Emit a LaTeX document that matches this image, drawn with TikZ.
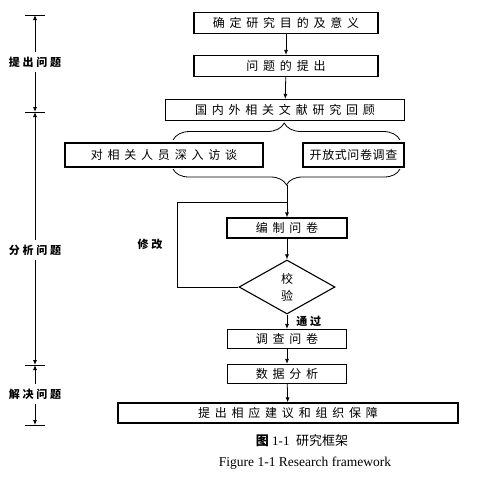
\documentclass[tikz,border=0pt]{standalone}
\usepackage{fontspec}
\setmainfont{Liberation Serif}
\newfontfamily\cjk[LetterSpace=40]{Noto Sans CJK SC}
\newfontfamily\cjkhei[LetterSpace=25]{Noto Sans CJK SC}
\newfontfamily\cjkcap{Noto Sans CJK SC}
\usetikzlibrary{arrows.meta,positioning,shapes.geometric,decorations.pathreplacing}
\tikzset{
  fw/box/.style={draw, line width=1.2pt, inner sep=1pt, minimum height=21pt, font=\cjk\fontsize{12}{14}\selectfont},
  fw/check/.style={draw, diamond, line width=1.1pt, aspect=1.8, inner sep=0pt, minimum width=96pt, minimum height=54pt, align=center, font=\cjk\fontsize{12}{14}\selectfont},
  fw/lbl/.style={inner sep=1pt, font=\cjkhei\bfseries\fontsize{11}{13}\selectfont},
  fw/line/.style={line width=0.8pt},
  fw/flow/.style={fw/line, -{Latex[length=5pt,width=4pt]}},
  fw/brace/.style={fw/line, decorate},
  fw/tick/.style={line width=0.8pt}
}

\begin{document}
\begin{tikzpicture}[x=1pt, y=-1pt]
\useasboundingbox (0,0) rectangle (498,477);

\node[fw/box, minimum width=184pt] (aim) at (286,23) {确定研究目的及意义};
\node[fw/box, minimum width=184pt] (ques) at (286,66) {问题的提出};
\node[fw/box, minimum width=239pt] (lit) at (285,110) {国内外相关文献研究回顾};
\node[fw/box, minimum width=198pt, minimum height=24pt] (intv) at (164,155) {对相关人员深入访谈};
\node[fw/box, minimum width=101pt, minimum height=24pt, font=\cjk\addfontfeature{LetterSpace=5}\fontsize{12}{14}\selectfont] (open) at (353.5,155) {开放式问卷调查};

\node[fw/box, minimum width=120pt, minimum height=20pt] (edit) at (287,228) {编制问卷};
\node[fw/check] (chk) at (287,287) {校\\[3pt]验};
\node[fw/box, minimum width=119pt, minimum height=19pt] (surv) at (287,339) {调查问卷};
\node[fw/box, minimum width=119pt, minimum height=19pt] (data) at (287,374) {数据分析};
\node[fw/box, minimum width=340pt, minimum height=20pt] (adv) at (288,413) {提出相应建议和组织保障};

\draw[fw/flow] (aim) -- (ques);
\draw[fw/flow] (ques) -- (lit);

\draw[fw/brace, decoration={brace, amplitude=17pt, aspect=0.49}] (173,140) -- (400,140);
\draw[fw/brace, decoration={brace, amplitude=16pt}] (400,169) -- (173,169);

\coordinate (btip) at (287,185);
\coordinate (lp) at (177,202);
\coordinate (jn) at (287,202);
\draw[fw/flow] (btip) -- (edit);
\draw[fw/flow] (edit) -- (chk);
\draw[fw/flow] (chk) -- node[fw/lbl, right=8pt] (pass) {通过} (surv);
\draw[fw/flow] (surv) -- (data);
\draw[fw/flow] (data) -- (adv);
\draw[fw/line] (chk.west) -| (lp) -- (jn);
\node[fw/lbl] (fix) at (150,244) {修改};

% stages
\coordinate (t0) at (35,15);
\coordinate (t1) at (35,112);
\coordinate (t2) at (35,365);
\coordinate (t3) at (35,425);
\node[fw/lbl, outer sep=4pt] (s1) at (35,62) {提出问题};
\node[fw/lbl, outer sep=4pt] (s2) at (35,250) {分析问题};
\node[fw/lbl, outer sep=4pt] (s3) at (35,394) {解决问题};
\foreach \t in {t0,t1,t2,t3}
  \draw[fw/tick] ([xshift=-10pt]\t) -- ([xshift=10pt]\t);
\draw[fw/flow] (s1) -- (t0);
\draw[fw/flow] (s1) -- (t1);
\draw[fw/flow] (s2) -- (t1);
\draw[fw/flow] (s2) -- (t2);
\draw[fw/flow] (s3) -- (t2);
\draw[fw/flow] (s3) -- (t3);

\node[font=\fontsize{13}{15}\selectfont] (cap) at (302,441) {{\cjkcap\bfseries 图} 1-1\enspace{\cjkcap 研究框架}};
\node[font=\fontsize{13.5}{15}\selectfont] (capen) at (305,463) {Figure 1-1 Research framework};
\end{tikzpicture}
\end{document}
